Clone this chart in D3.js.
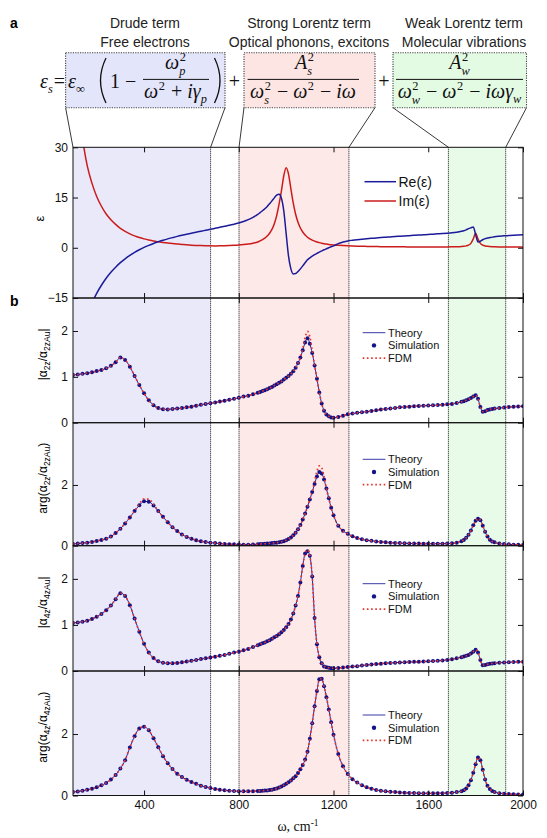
<!DOCTYPE html>
<html><head><meta charset="utf-8">
<script src="https://cdn.jsdelivr.net/npm/d3@7/dist/d3.min.js"></script>
<style>
html,body{margin:0;padding:0;background:#fff;}
svg{display:block;font-family:"Liberation Sans",Arial,Helvetica,sans-serif;}
</style></head><body>
<svg id="chart" width="547" height="838"></svg>
<script>
// ---------------- DATA ----------------
const omega = [
 100,120,140,160,180,200,220,240,260,280,300,320,340,360,380,400,420,440,460,480,500,520,540,560,580,600,620,640,660,680,700,720,740,760,780,800,820,840,860,880,
 890,900,910,920,930,940,950,960,970,980,990,1000,1010,1020,1030,1040,1050,1060,1070,1080,1090,1100,1110,1120,1130,1140,1150,1160,1170,1180,1190,1200,
 1220,1240,1260,1280,1300,1320,1340,1360,1380,1400,1420,1440,1460,1480,1500,1520,1540,1560,1580,1600,1620,1640,1660,1680,1700,1720,1740,
 1750,1760,1770,1780,1790,1800,1810,1820,1830,1840,1850,1860,1870,1880,
 1900,1920,1940,1960,1980,2000];

const reEps = [
 -34.2,-29.5,-25.1,-19.8,-16.5,-13.6,-11.2,-9.1,-7.3,-5.8,-4.45,-3.3,-2.3,-1.4,-0.6,0.1,0.72,1.28,1.78,2.23,2.65,3.03,3.4,3.74,4.06,4.36,4.65,4.94,5.22,5.5,5.8,6.1,6.4,6.7,7.05,7.4,7.85,8.4,9.1,9.95,
 10.5,11.05,11.65,12.35,13.15,14.0,14.9,15.7,15.95,14.8,11.0,4.2,-2.5,-6.3,-7.8,-7.7,-7.1,-6.3,-5.4,-4.5,-3.6,-3.0,-2.5,-2.05,-1.65,-1.3,-0.95,-0.6,-0.3,0.0,0.3,0.55,
 1.25,1.7,2.05,2.25,2.42,2.57,2.7,2.82,2.93,3.05,3.15,3.25,3.35,3.44,3.53,3.62,3.71,3.8,3.89,3.98,4.07,4.16,4.25,4.35,4.47,4.65,4.91,
 5.09,5.35,5.7,5.97,6.21,3.96,1.71,1.95,2.4,2.73,2.9,3.04,3.18,3.29,
 3.44,3.56,3.64,3.72,3.79,3.85];

const imEps = [
 59,43.6,32.7,24.5,19.3,15.3,12.4,10.1,8.4,7.0,5.8,4.9,4.15,3.55,3.05,2.65,2.3,2.0,1.78,1.58,1.4,1.25,1.12,1.0,0.87,0.77,0.7,0.64,0.6,0.57,0.56,0.57,0.6,0.65,0.72,0.82,0.95,1.12,1.36,1.72,
 2.05,2.45,2.9,3.5,4.35,5.5,7.2,9.6,13.0,17.0,21.5,23.9,22.0,17.6,13.3,10.0,7.6,5.9,4.7,3.8,3.15,2.65,2.28,1.98,1.74,1.54,1.37,1.23,1.11,1.0,0.91,0.84,
 0.74,0.66,0.59,0.53,0.48,0.44,0.41,0.38,0.36,0.34,0.32,0.3,0.29,0.28,0.27,0.26,0.255,0.25,0.245,0.24,0.24,0.24,0.245,0.25,0.27,0.3,0.38,
 0.45,0.57,0.8,1.32,2.65,4.35,2.63,1.3,0.78,0.55,0.43,0.37,0.33,0.3,
 0.26,0.24,0.22,0.21,0.2,0.19];

const absA2z = [
 1.04,1.05,1.065,1.08,1.10,1.125,1.15,1.185,1.24,1.32,1.42,1.37,1.22,1.02,0.82,0.64,0.49,0.38,0.32,0.295,0.29,0.30,0.31,0.32,0.335,0.35,0.37,0.39,0.41,0.425,0.44,0.46,0.48,0.50,0.52,0.545,0.57,0.59,0.62,0.655,
 0.67,0.69,0.71,0.73,0.755,0.78,0.81,0.84,0.87,0.90,0.94,0.98,1.02,1.07,1.12,1.20,1.30,1.42,1.58,1.75,1.84,1.72,1.52,1.25,0.96,0.66,0.42,0.26,0.18,0.14,0.115,0.11,
 0.125,0.15,0.185,0.20,0.215,0.23,0.24,0.255,0.27,0.29,0.30,0.31,0.32,0.335,0.345,0.35,0.36,0.365,0.37,0.375,0.38,0.385,0.39,0.40,0.41,0.43,0.455,
 0.47,0.49,0.51,0.54,0.57,0.60,0.52,0.34,0.24,0.25,0.275,0.29,0.30,0.31,
 0.32,0.33,0.34,0.35,0.355,0.36];

const argA2z = [
 0.055,0.07,0.085,0.10,0.125,0.155,0.19,0.23,0.30,0.42,0.56,0.73,0.93,1.14,1.33,1.46,1.45,1.32,1.14,0.95,0.77,0.61,0.48,0.37,0.29,0.23,0.18,0.145,0.12,0.10,0.085,0.07,0.06,0.05,0.045,0.04,0.035,0.035,0.04,0.05,
 0.055,0.06,0.065,0.07,0.075,0.085,0.095,0.10,0.115,0.13,0.15,0.18,0.22,0.27,0.34,0.43,0.54,0.68,0.86,1.06,1.28,1.52,1.77,2.03,2.28,2.43,2.38,2.18,1.88,1.56,1.25,1.00,
 0.66,0.49,0.39,0.31,0.25,0.21,0.18,0.16,0.14,0.125,0.11,0.10,0.09,0.085,0.08,0.075,0.072,0.07,0.068,0.065,0.065,0.065,0.068,0.07,0.08,0.10,0.15,
 0.19,0.26,0.36,0.50,0.67,0.82,0.89,0.84,0.66,0.46,0.30,0.20,0.14,0.11,
 0.07,0.055,0.045,0.035,0.03,0.025];

const absA4z = [
 1.04,1.055,1.07,1.09,1.13,1.18,1.24,1.32,1.42,1.56,1.69,1.63,1.43,1.14,0.85,0.59,0.40,0.28,0.21,0.18,0.17,0.17,0.175,0.19,0.205,0.22,0.24,0.26,0.275,0.295,0.31,0.33,0.35,0.375,0.40,0.42,0.45,0.48,0.52,0.56,
 0.58,0.60,0.62,0.645,0.67,0.70,0.73,0.76,0.80,0.84,0.89,0.95,1.02,1.12,1.25,1.42,1.63,1.92,2.28,2.55,2.60,2.50,2.05,1.15,0.58,0.30,0.17,0.10,0.08,0.07,0.06,0.06,
 0.065,0.075,0.085,0.095,0.105,0.12,0.13,0.14,0.15,0.16,0.17,0.175,0.18,0.185,0.19,0.195,0.20,0.20,0.205,0.21,0.215,0.22,0.23,0.24,0.255,0.275,0.30,
 0.315,0.33,0.35,0.38,0.42,0.46,0.40,0.24,0.125,0.13,0.145,0.155,0.165,0.17,
 0.18,0.185,0.19,0.195,0.20,0.20];

const argA4z = [
 0.11,0.13,0.155,0.185,0.22,0.27,0.33,0.41,0.52,0.67,0.88,1.15,1.56,1.93,2.18,2.24,2.12,1.86,1.57,1.28,1.05,0.86,0.71,0.60,0.51,0.44,0.38,0.32,0.28,0.245,0.21,0.19,0.17,0.155,0.145,0.14,0.135,0.135,0.14,0.145,
 0.15,0.155,0.16,0.165,0.175,0.19,0.21,0.23,0.26,0.29,0.33,0.38,0.43,0.49,0.56,0.63,0.73,0.85,0.99,1.17,1.42,1.85,2.35,2.90,3.40,3.78,3.80,3.55,3.20,2.80,2.38,1.98,
 1.35,0.95,0.70,0.53,0.42,0.33,0.27,0.22,0.18,0.155,0.135,0.12,0.11,0.10,0.09,0.085,0.08,0.075,0.07,0.07,0.07,0.07,0.075,0.08,0.09,0.11,0.14,
 0.17,0.23,0.33,0.50,0.74,1.02,1.24,1.15,0.84,0.52,0.32,0.21,0.15,0.11,
 0.075,0.06,0.05,0.04,0.035,0.03];

// FDM values that differ from theory (omega, value)
const fdmAbsA2z = [[1070,1.62],[1080,1.86],[1090,1.99],[1100,1.87],[1110,1.58]];
const fdmArgA2z = [[380,1.38],[400,1.54],[420,1.53],[440,1.37],[1120,2.12],[1130,2.45],[1140,2.63],[1150,2.56],[1160,2.28]];
const fdmAbsA4z = [[1090,2.63]];
const fdmArgA4z = [];

// regions & boundaries (cm^-1)
const drudeRange = [100, 681];
const strongRange = [801, 1265];
const weakRange = [1685, 1927];
const boundaries = [681, 801, 1265, 1685, 1927];

// ticks
const xTicks = [400, 800, 1200, 1600, 2000];
const epsTicks = [-15, 0, 15, 30];
const absTicks = [0, 1, 2];
const argTicks = [0, 2];

const termTitles = [["Drude term","Free electrons"],["Strong Lorentz term","Optical phonons, excitons"],["Weak Lorentz term","Molecular vibrations"]];
const epsLegend = ["Re(ε)", "Im(ε)"];
const bLegend = ["Theory", "Simulation", "FDM"];

// ---------------- DRAW ----------------
const svg = d3.select('#chart');
const XL = 73, XR = 523;
const x = d3.scaleLinear().domain([100, 2000]).range([XL, XR]);
const TOP = 147.3, BOT = 795.5;

const C_RE = '#1b1b9a', C_IM = '#cc1b1b', C_DOT = '#141488', C_FDM = '#e8332b';

// panel labels
svg.append('text').attr('x', 10).attr('y', 28).style('font-size','14px').style('font-weight','bold').text('a');
svg.append('text').attr('x', 10).attr('y', 306).style('font-size','14px').style('font-weight','bold').text('b');

// titles
const titleX = [145, 309, 464];
termTitles.forEach((tt, i) => {
  tt.forEach((s, j) => {
    svg.append('text').attr('x', titleX[i]).attr('y', 28 + j*18.5).attr('text-anchor','middle')
      .style('font-size','14px').style('fill','#222').text(s);
  });
});

// formula boxes
const boxes = [
  {x0: 65.6, x1: 225, fill: '#e3e5fb', to: [drudeRange[0], drudeRange[1]]},
  {x0: 244, x1: 375, fill: '#fde5e3', to: [strongRange[0], strongRange[1]]},
  {x0: 393, x1: 526.5, fill: '#e3fbe3', to: [weakRange[0], weakRange[1]]}
];
const BY0 = 52.7, BY1 = 107.7;
boxes.forEach(b => {
  svg.append('rect').attr('x', b.x0).attr('y', BY0).attr('width', b.x1 - b.x0).attr('height', BY1 - BY0)
    .attr('fill', b.fill).attr('stroke', '#444').attr('stroke-width', 1.1).attr('stroke-dasharray', '1.2,1.2');
  svg.append('line').attr('x1', b.x0).attr('y1', BY1).attr('x2', x(b.to[0])).attr('y2', TOP).attr('stroke','#222').attr('stroke-width',0.9);
  svg.append('line').attr('x1', b.x1).attr('y1', BY1).attr('x2', x(b.to[1])).attr('y2', TOP).attr('stroke','#222').attr('stroke-width',0.9);
});

// math helpers
const MF = '"Liberation Serif","DejaVu Serif",serif';
function mathRow(g, items, fs) {
  let cx = 0;
  items.forEach(it => {
    if (it.t != null) {
      const el = g.append('text').attr('x', cx).attr('y', 0)
        .style('font-family', MF).style('font-size', fs + 'px').style('white-space', 'pre')
        .style('font-style', it.it ? 'italic' : 'normal').text(it.t);
      cx += el.node().getComputedTextLength() + (it.pad || 0);
    } else {
      const s = fs * 0.62;
      let w = 0;
      if (it.sup != null) {
        const e = g.append('text').attr('x', cx + 0.5).attr('y', -fs * 0.42).style('font-family', MF).style('font-size', s + 'px').text(it.sup);
        w = Math.max(w, e.node().getComputedTextLength() + 0.5);
      }
      if (it.sub != null) {
        const e = g.append('text').attr('x', cx).attr('y', fs * (it.sup != null ? 0.3 : 0.24)).style('font-family', MF).style('font-size', s + 'px')
          .style('font-style', it.up ? 'normal' : 'italic').text(it.sub);
        w = Math.max(w, e.node().getComputedTextLength());
      }
      cx += w + 1;
    }
  });
  return cx;
}
function placeRow(items, px, baseline, fs, anchor) {
  const g = svg.append('g').style('fill', '#111');
  const w = mathRow(g, items, fs);
  const x0 = anchor === 'middle' ? px - w / 2 : anchor === 'end' ? px - w : px;
  g.attr('transform', `translate(${x0},${baseline})`);
}
const FS = 20;
const OP = (s) => ({t: ' ' + s + ' '});
placeRow([{t:'ε', it:true},{sub:'s'},{t:'='}], 65, 88, FS, 'end');
placeRow([{t:'ε', it:true},{sub:'∞', up:true}], 68, 88, FS, 'start');
svg.append('path').attr('d', 'M106,58 Q95,80.5 106,103').attr('fill','none').attr('stroke','#111').attr('stroke-width',1.3);
placeRow([{t:'1'}, OP('−')], 110, 88, FS, 'start');
placeRow([{t:'ω', it:true},{sup:'2', sub:'p'}], 176, 69, FS, 'middle');
svg.append('line').attr('x1',143).attr('x2',209).attr('y1',79.4).attr('y2',79.4).attr('stroke','#111').attr('stroke-width',1);
placeRow([{t:'ω', it:true},{sup:'2'}, OP('+'),{t:'i', it:true},{t:'γ', it:true},{sub:'p'}], 176, 98, FS, 'middle');
svg.append('path').attr('d', 'M214.5,58 Q225.5,80.5 214.5,103').attr('fill','none').attr('stroke','#111').attr('stroke-width',1.3);
placeRow([{t:'+'}], 234.5, 88, FS, 'middle');
placeRow([{t:'A', it:true},{sup:'2', sub:'s'}], 305, 69, FS, 'middle');
svg.append('line').attr('x1',247.6).attr('x2',359).attr('y1',79.4).attr('y2',79.4).attr('stroke','#111').attr('stroke-width',1);
placeRow([{t:'ω', it:true},{sup:'2', sub:'s'}, OP('−'),{t:'ω', it:true},{sup:'2'}, OP('−'),{t:'i', it:true},{t:'ω', it:true}], 303, 98, FS, 'middle');
placeRow([{t:'+'}], 384, 88, FS, 'middle');
placeRow([{t:'A', it:true},{sup:'2', sub:'w'}], 460, 69, FS, 'middle');
svg.append('line').attr('x1',396).attr('x2',523).attr('y1',79.4).attr('y2',79.4).attr('stroke','#111').attr('stroke-width',1);
placeRow([{t:'ω', it:true},{sup:'2', sub:'w'}, OP('−'),{t:'ω', it:true},{sup:'2'}, OP('−'),{t:'i', it:true},{t:'ωγ', it:true},{sub:'w'}], 460, 98, FS, 'middle');

// shaded regions across all panels
[[drudeRange,'#e9e9fa'],[strongRange,'#fde9e8'],[weakRange,'#e8fae8']].forEach(([r, c]) => {
  svg.append('rect').attr('x', x(r[0])).attr('y', TOP).attr('width', x(r[1]) - x(r[0])).attr('height', BOT - TOP).attr('fill', c);
});

// panels
const panels = [
  {key:'eps', top:147.3, bottom:298, domain:[-15,30], ticks:epsTicks},
  {key:'b1', top:298, bottom:422.7, domain:[0,2.72], ticks:absTicks, vals:absA2z, fdm:fdmAbsA2z, leg:332.7,
    label:[{t:'|α'},{t:'2z',sub:1},{t:'/α'},{t:'2zAu',sub:1},{t:'|'}]},
  {key:'b2', top:422.7, bottom:545.7, domain:[0,4.05], ticks:argTicks, vals:argA2z, fdm:fdmArgA2z, leg:459.3,
    label:[{t:'arg(α'},{t:'2z',sub:1},{t:'/α'},{t:'2zAu',sub:1},{t:')'}]},
  {key:'b3', top:545.7, bottom:671, domain:[0,2.72], ticks:absTicks, vals:absA4z, fdm:fdmAbsA4z, leg:583.7,
    label:[{t:'|α'},{t:'4z',sub:1},{t:'/α'},{t:'4zAu',sub:1},{t:'|'}]},
  {key:'b4', top:671, bottom:795.5, domain:[0,4.05], ticks:argTicks, vals:argA4z, fdm:fdmArgA4z, leg:715,
    label:[{t:'arg(α'},{t:'4z',sub:1},{t:'/α'},{t:'4zAu',sub:1},{t:')'}]}
];

const defs = svg.append('defs');
const gDotted = svg.append('g');
const gContent = svg.append('g');
const gAxes = svg.append('g');

// dotted boundaries
boundaries.forEach(b => {
  gDotted.append('line').attr('x1', x(b)).attr('x2', x(b)).attr('y1', TOP).attr('y2', BOT)
    .attr('stroke', '#111').attr('stroke-width', 1).attr('stroke-dasharray', '1,1');
});

panels.forEach((p, pi) => {
  const y = d3.scaleLinear().domain(p.domain).range([p.bottom, p.top]);
  const cid = 'clip-' + p.key;
  defs.append('clipPath').attr('id', cid).append('rect')
    .attr('x', XL).attr('y', p.top).attr('width', XR - XL).attr('height', p.bottom - p.top);
  const g = gContent.append('g').attr('clip-path', `url(#${cid})`);
  const line = d3.line().x(d => x(d[0])).y(d => y(d[1])).curve(d3.curveMonotoneX);

  if (p.key === 'eps') {
    const re = omega.map((w, i) => [w, reEps[i]]);
    const im = omega.map((w, i) => [w, imEps[i]]);
    g.append('path').attr('d', line(im)).attr('fill','none').attr('stroke', C_IM).attr('stroke-width', 1.5);
    g.append('path').attr('d', line(re)).attr('fill','none').attr('stroke', C_RE).attr('stroke-width', 1.5);
    // legend
    const ly = [181.7, 201];
    [[C_RE, epsLegend[0]],[C_IM, epsLegend[1]]].forEach(([c, s], i) => {
      gAxes.append('line').attr('x1', 364.5).attr('x2', 396).attr('y1', ly[i]).attr('y2', ly[i]).attr('stroke', c).attr('stroke-width', 1.5);
      gAxes.append('text').attr('x', 398.5).attr('y', ly[i] + 5).style('font-size','14px').style('fill','#111').text(s);
    });
    // y label
    gAxes.append('text').attr('transform', `translate(44,${(p.top+p.bottom)/2 - 4}) rotate(-90)`).attr('text-anchor','middle')
      .style('font-size','13px').text('ε');
  } else {
    const th = omega.map((w, i) => [w, p.vals[i]]);
    const fdmMap = new Map(p.fdm);
    const fd = omega.map((w, i) => [w, fdmMap.has(w) ? fdmMap.get(w) : p.vals[i]]);
    g.append('path').attr('d', line(th)).attr('fill','none').attr('stroke', '#2424a8').attr('stroke-width', 1);
    g.selectAll('circle').data(th).join('circle').attr('cx', d => x(d[0])).attr('cy', d => y(d[1])).attr('r', 2).attr('fill', C_DOT);
    g.append('path').attr('d', line(fd)).attr('fill','none').attr('stroke', C_FDM).attr('stroke-width', 1.7).attr('stroke-dasharray', '1.6,2.6');
    // legend
    const ly = [p.leg, p.leg + 12.7, p.leg + 25.4];
    gAxes.append('line').attr('x1', 362.7).attr('x2', 385.4).attr('y1', ly[0]).attr('y2', ly[0]).attr('stroke', '#3a3aa8').attr('stroke-width', 1);
    gAxes.append('circle').attr('cx', 374).attr('cy', ly[1]).attr('r', 2.2).attr('fill', C_DOT);
    gAxes.append('line').attr('x1', 362.7).attr('x2', 385.4).attr('y1', ly[2]).attr('y2', ly[2]).attr('stroke', C_FDM).attr('stroke-width', 1.7).attr('stroke-dasharray', '1.6,2.6');
    bLegend.forEach((s, i) => {
      gAxes.append('text').attr('x', 388).attr('y', ly[i] + 4).style('font-size','11px').style('fill','#111').text(s);
    });
    // y label
    const t = gAxes.append('text').attr('transform', `translate(47,${(p.top+p.bottom)/2 - 6}) rotate(-90)`).attr('text-anchor','middle')
      .style('font-size','12px');
    let shifted = false;
    p.label.forEach(part => {
      const ts = t.append('tspan').text(part.t);
      if (part.sub && !shifted) { ts.attr('dy', 3).style('font-size','8.5px'); shifted = true; }
      else if (!part.sub && shifted) { ts.attr('dy', -3); shifted = false; }
    });
  }

  // frame
  gAxes.append('rect').attr('x', XL).attr('y', p.top).attr('width', XR - XL).attr('height', p.bottom - p.top)
    .attr('fill','none').attr('stroke','#111').attr('stroke-width',1);
  // axes
  const yl = gAxes.append('g').attr('transform', `translate(${XL},0)`)
    .call(d3.axisLeft(y).tickValues(p.ticks).tickSize(-5).tickPadding(5).tickFormat(d3.format('d')));
  const yr = gAxes.append('g').attr('transform', `translate(${XR},0)`)
    .call(d3.axisRight(y).tickValues(p.ticks).tickSize(-5).tickFormat(''));
  const xt = gAxes.append('g').attr('transform', `translate(0,${p.top})`)
    .call(d3.axisTop(x).tickValues(xTicks).tickSize(-5).tickFormat(''));
  const xb = gAxes.append('g').attr('transform', `translate(0,${p.bottom})`)
    .call(d3.axisBottom(x).tickValues(xTicks).tickSize(-5).tickPadding(5).tickFormat(pi === panels.length - 1 ? d3.format('d') : ''));
  [yl, yr, xt, xb].forEach(a => {
    a.select('.domain').remove();
    a.selectAll('line').attr('stroke', '#111');
    a.selectAll('text').style('font-size','12px').style('font-family','"Liberation Sans",Arial,sans-serif').attr('fill','#111');
  });
});

// x label
const xl = svg.append('text').attr('x', 298).attr('y', 831).attr('text-anchor','middle')
  .style('font-family', MF).style('font-size','14px').style('fill','#111');
xl.append('tspan').text('ω, cm');
xl.append('tspan').attr('dy', -5).style('font-size','9.5px').text('-1');
</script></body></html>
